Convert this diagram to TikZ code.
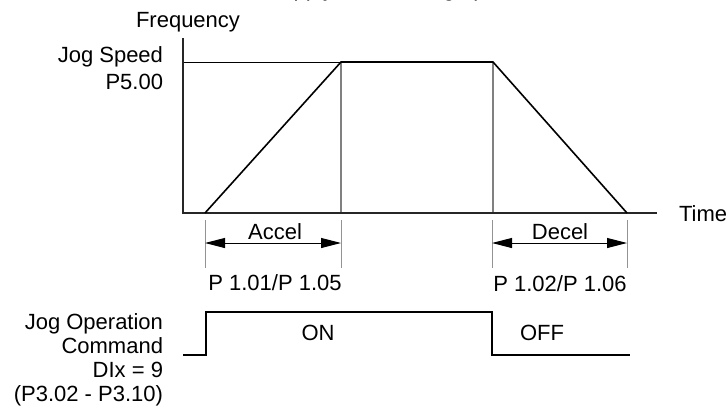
\documentclass[tikz,border=0pt]{standalone}
\usepackage{fontspec}
\setmainfont{Liberation Sans}
\usetikzlibrary{arrows.meta}
\begin{document}
\begin{tikzpicture}[x=1pt,y=-1pt,
  lbl/.style={font=\fontsize{22}{24}\selectfont, inner sep=0pt, outer sep=0pt},
  ilbl/.style={font=\fontsize{22}{24}\selectfont\itshape, inner sep=0pt, outer sep=0pt},
  axisline/.style={line width=1.6pt, black!85},
  curveline/.style={line width=1.6pt, black, line join=miter},
  guideline/.style={line width=1.4pt, gray},
  thinline/.style={line width=0.9pt, black},
  extline/.style={line width=1pt, gray!85},
  dimline/.style={line width=1pt, black, {Triangle[length=20pt,width=10pt]}-{Triangle[length=20pt,width=10pt]}},
]
\useasboundingbox (0,0) rectangle (728,413);
% coordinates
\coordinate (O) at (183,213);
\coordinate (Ytop) at (183,38);
\coordinate (Xend) at (657,213);
\coordinate (S) at (183,62);
\coordinate (A0) at (205,213);
\coordinate (A1) at (341,62);
\coordinate (A1b) at (341,213);
\coordinate (D0) at (493,62);
\coordinate (D0b) at (493,213);
\coordinate (D1) at (627,213);
% guides
\draw[thinline] (S) -- (A1);
\draw[guideline] (A1) -- (A1b);
\draw[guideline] (D0) -- (D0b);
% axes
\draw[axisline] (Ytop) -- (O) -- (Xend);
% profile
\draw[curveline] (A0) -- (A1) -- (D0) -- (D1);
% accel dimension
\coordinate (ea1) at (205,220); \coordinate (ea2) at (205,268);
\coordinate (eb1) at (341,220); \coordinate (eb2) at (341,268);
\draw[extline] (ea1) -- (ea2);
\draw[extline] (eb1) -- (eb2);
\coordinate (da) at (205,243); \coordinate (db) at (341,243);
\draw[dimline] (da) -- (db);
% decel dimension
\coordinate (ec1) at (492,220); \coordinate (ec2) at (492,268);
\coordinate (ed1) at (627,220); \coordinate (ed2) at (627,268);
\draw[extline] (ec1) -- (ec2);
\draw[extline] (ed1) -- (ed2);
\coordinate (dc) at (492,243); \coordinate (dd) at (627,243);
\draw[dimline] (dc) -- (dd);
% command signal
\coordinate (s0) at (183,355); \coordinate (s1) at (206,355);
\coordinate (s2) at (206,312); \coordinate (s3) at (492,312);
\coordinate (s4) at (492,355); \coordinate (s5) at (630,355);
\draw[curveline] (s0) -- (s1) -- (s2) -- (s3) -- (s4) -- (s5);
% texts
\node[ilbl, anchor=base west] (note) at (199,-4) {This will apply even during operation};
\node[lbl, anchor=base] (freq) at (188,27) {Frequency};
\node[lbl, anchor=base east] (js1) at (163,62) {Jog Speed};
\node[lbl, anchor=base east] (js2) at (163,89) {P5.00};
\node[lbl, anchor=base west] (time) at (679,221) {Time};
\node[lbl, anchor=base] (accel) at (275,239) {Accel};
\node[lbl, anchor=base] (pa) at (275,290) {P 1.01/P 1.05};
\node[lbl, anchor=base] (decel) at (560,239) {Decel};
\node[lbl, anchor=base] (pd) at (560,291) {P 1.02/P 1.06};
\node[lbl, anchor=base east] (c1) at (163,329) {Jog Operation};
\node[lbl, anchor=base east] (c2) at (163,353) {Command};
\node[lbl, anchor=base east] (c3) at (163,377) {DIx = 9};
\node[lbl, anchor=base east] (c4) at (163,401) {(P3.02 - P3.10)};
\node[lbl, anchor=base] (on) at (318,340) {ON};
\node[lbl, anchor=base] (off) at (542,340) {OFF};
\end{tikzpicture}
\end{document}
